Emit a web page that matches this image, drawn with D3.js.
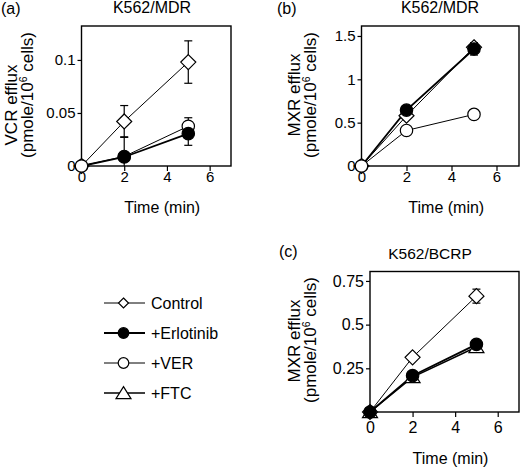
<!DOCTYPE html>
<html><head><meta charset="utf-8">
<script src="https://cdn.jsdelivr.net/npm/d3@7"></script>
<style>
html,body{margin:0;padding:0;background:#fff;}
svg{display:block;font-family:"Liberation Sans",Arial,sans-serif;}
</style></head>
<body><svg id="c" width="520" height="471"></svg>
<script>
// ---- data ----
const timePoints = [0, 2, 5];
const seriesNames = ["Control", "+Erlotinib", "+VER", "+FTC"];
const xTicks = [0, 2, 4, 6];

// (a) K562/MDR, VCR efflux
const vcrControl = [0, 0.042, 0.098];
const vcrControlErr = [0, 0.015, 0.02];
const vcrErlotinib = [0, 0.0085, 0.0305];
const vcrErlotinibErr = [0, 0.019, 0.011];
const vcrVer = [0, 0.009, 0.0375];
const vcrVerErr = [0, 0.003, 0.008];
const vcrTicks = [0, 0.05, 0.1];
const vcrTickLabels = ["0", "0.05", "0.1"];

// (b) K562/MDR, MXR efflux
const mdrControl = [0, 0.58, 1.37];
const mdrControlErr = [0, 0.03, 0.05];
const mdrErlotinib = [0, 0.645, 1.35];
const mdrErlotinibErr = [0, 0.03, 0.07];
const mdrVer = [0, 0.41, 0.595];
const mdrVerErr = [0, 0.02, 0.02];
const mdrTicks = [0, 0.5, 1, 1.5];
const mdrTickLabels = ["0", "0.5", "1", "1.5"];

// (c) K562/BCRP, MXR efflux
const bcrpControl = [0, 0.313, 0.663];
const bcrpControlErr = [0, 0.015, 0.04];
const bcrpErlotinib = [0, 0.208, 0.387];
const bcrpErlotinibErr = [0, 0.015, 0.02];
const bcrpFtc = [0, 0.2, 0.372];
const bcrpFtcErr = [0, 0.01, 0.015];
const bcrpTicks = [0.25, 0.5, 0.75];
const bcrpTickLabels = ["0.25", "0.5", "0.75"];

// ---- styles ----
const styleFor = {
  "Control":   {shape: "diamond", fill: "#fff", lw: 1},
  "+Erlotinib":{shape: "circle", fill: "#000", lw: 1.8},
  "+VER":      {shape: "circle", fill: "#fff", lw: 1},
  "+FTC":      {shape: "triangle", fill: "#fff", lw: 1.5}
};

const svg = d3.select("#c");

function markerPath(shape, s) {
  if (shape === "diamond") return `M0,${-s}L${s},0L0,${s}L${-s},0Z`;
  if (shape === "triangle") return `M0,${-s*0.85}L${s},${s*0.75}L${-s},${s*0.75}Z`;
  return null;
}
function drawMarker(g, shape, fill, x, y, size) {
  if (shape === "circle") {
    g.append("circle").attr("cx", x).attr("cy", y).attr("r", size)
      .attr("fill", fill).attr("stroke", "#000").attr("stroke-width", 1.2);
  } else {
    g.append("path").attr("d", markerPath(shape, size))
      .attr("transform", `translate(${x},${y})`)
      .attr("fill", fill).attr("stroke", "#000").attr("stroke-width", 1.2);
  }
}

function panel(cfg) {
  const g = svg.append("g");
  const x = d3.scaleLinear().domain([0, 7]).range(cfg.xr);
  const y = d3.scaleLinear().domain([0, cfg.ymax]).range(cfg.yr);
  const [x0, x1] = cfg.xr, [y0, y1] = cfg.yr;

  // x axis
  const xa = g.append("g").attr("transform", `translate(0,${y0})`)
    .call(d3.axisBottom(x).tickValues(xTicks).tickSize(5).tickSizeOuter(0).tickFormat(d3.format("d")));
  xa.select(".domain").remove();
  xa.selectAll("line").attr("stroke", "#000").attr("stroke-width", 1.2);
  xa.selectAll("text").attr("font-size", cfg.tickFont).attr("fill", "#000").attr("dy", cfg.xTickDy)
    .attr("font-family", "Liberation Sans, Arial, sans-serif");

  // y axis
  const ya = g.append("g").attr("transform", `translate(${x0},0)`)
    .call(d3.axisLeft(y).tickValues(cfg.ticks).tickSize(4).tickSizeOuter(0)
      .tickFormat((d, i) => cfg.tickLabels[i]));
  ya.select(".domain").remove();
  ya.selectAll("line").attr("stroke", "#000").attr("stroke-width", 1.2);
  ya.selectAll("text").attr("font-size", cfg.tickFont).attr("fill", "#000").attr("x", -6)
    .attr("font-family", "Liberation Sans, Arial, sans-serif");

  // frame
  g.append("rect").attr("x", x0).attr("y", y1).attr("width", x1 - x0).attr("height", y0 - y1)
    .attr("fill", "none").attr("stroke", "#000").attr("stroke-width", 1.4);

  // series lines
  const line = d3.line().x((d, i) => x(timePoints[i])).y(d => y(d));
  cfg.series.forEach(s => {
    const st = styleFor[s.name];
    g.append("path").datum(s.values).attr("d", line)
      .attr("fill", "none").attr("stroke", "#000").attr("stroke-width", st.lw);
  });
  // error bars
  cfg.series.forEach(s => {
    s.values.forEach((v, i) => {
      const e = s.err[i];
      if (e > 0) {
        const cx = x(timePoints[i]);
        const lo = Math.max(0, v - e), hi = v + e;
        g.append("line").attr("x1", cx).attr("x2", cx).attr("y1", y(lo)).attr("y2", y(hi))
          .attr("stroke", "#000").attr("stroke-width", 1.2);
        g.append("line").attr("x1", cx - 4).attr("x2", cx + 4).attr("y1", y(hi)).attr("y2", y(hi))
          .attr("stroke", "#000").attr("stroke-width", 1.2);
        if (v - e > 0)
          g.append("line").attr("x1", cx - 4).attr("x2", cx + 4).attr("y1", y(lo)).attr("y2", y(lo))
            .attr("stroke", "#000").attr("stroke-width", 1.2);
      }
    });
  });
  // markers (the series named in topAtZero gets its first marker drawn last)
  const deferred = [];
  cfg.series.forEach(s => {
    const st = styleFor[s.name];
    const size = st.shape === "diamond" ? 7.5 : st.shape === "triangle" ? 7.5 : 6.2;
    s.values.forEach((v, i) => {
      if (i === 0 && s.name === cfg.topAtZero) { deferred.push([st, v, i, size]); return; }
      drawMarker(g, st.shape, st.fill, x(timePoints[i]), y(v), size);
    });
  });
  deferred.forEach(([st, v, i, size]) => drawMarker(g, st.shape, st.fill, x(timePoints[i]), y(v), size));

  // titles
  g.append("text").attr("x", cfg.titleX).attr("y", cfg.titleY).attr("text-anchor", "middle")
    .attr("font-size", cfg.titleFont).text(cfg.title);
  g.append("text").attr("x", cfg.tagX).attr("y", cfg.tagY).attr("font-size", 16).text(cfg.tag);
  g.append("text").attr("x", (x0 + x1) / 2 + 6).attr("y", cfg.xLabelY).attr("text-anchor", "middle")
    .attr("font-size", 16).text("Time (min)");
  g.append("text").attr("transform", `translate(${cfg.yl1X},${cfg.yl1Y}) rotate(-90)`)
    .attr("text-anchor", "middle").attr("font-size", 17).text(cfg.ylabel);
  const t2 = g.append("text").attr("transform", `translate(${cfg.yl2X},${cfg.yl2Y}) rotate(-90)`)
    .attr("text-anchor", "middle").attr("font-size", 17);
  t2.append("tspan").text("(pmole/10");
  t2.append("tspan").attr("dy", -6).attr("font-size", 10.5).text("6");
  t2.append("tspan").attr("dy", 6).text(" cells)");
}

panel({
  xr: [81.5, 231], yr: [166, 26], ymax: 0.132, ticks: vcrTicks, tickLabels: vcrTickLabels,
  tickFont: 15, xTickDy: "0.55em", topAtZero: "+VER",
  series: [
    {name: "Control", values: vcrControl, err: vcrControlErr},
    {name: "+VER", values: vcrVer, err: vcrVerErr},
    {name: "+Erlotinib", values: vcrErlotinib, err: vcrErlotinibErr}
  ],
  title: "K562/MDR", titleX: 152, titleY: 13, titleFont: 16, tag: "(a)", tagX: 1, tagY: 14, xLabelY: 213,
  ylabel: "VCR efflux", yl1X: 17, yl1Y: 105, yl2X: 33, yl2Y: 95
});
panel({
  xr: [361.5, 519], yr: [166, 26], ymax: 1.615, ticks: mdrTicks, tickLabels: mdrTickLabels,
  tickFont: 15, xTickDy: "0.55em", topAtZero: "+VER",
  series: [
    {name: "Control", values: mdrControl, err: mdrControlErr},
    {name: "+Erlotinib", values: mdrErlotinib, err: mdrErlotinibErr},
    {name: "+VER", values: mdrVer, err: mdrVerErr}
  ],
  title: "K562/MDR", titleX: 440, titleY: 13, titleFont: 16, tag: "(b)", tagX: 277, tagY: 14, xLabelY: 213,
  ylabel: "MXR efflux", yl1X: 300, yl1Y: 95, yl2X: 316, yl2Y: 95
});
panel({
  xr: [370, 519], yr: [412, 271.5], ymax: 0.804, ticks: bcrpTicks, tickLabels: bcrpTickLabels,
  tickFont: 16, xTickDy: "0.82em", topAtZero: null,
  series: [
    {name: "Control", values: bcrpControl, err: bcrpControlErr},
    {name: "+FTC", values: bcrpFtc, err: bcrpFtcErr},
    {name: "+Erlotinib", values: bcrpErlotinib, err: bcrpErlotinibErr}
  ],
  title: "K562/BCRP", titleX: 430, titleY: 259, titleFont: 15.5, tag: "(c)", tagX: 279, tagY: 257, xLabelY: 464,
  ylabel: "MXR efflux", yl1X: 300, yl1Y: 341, yl2X: 316, yl2Y: 340
});

// legend
const leg = svg.append("g");
const legY = d3.scaleBand().domain(seriesNames).range([288, 408]);
seriesNames.forEach(n => {
  const st = styleFor[n];
  const cy = legY(n) + legY.bandwidth() / 2;
  leg.append("line").attr("x1", 104).attr("x2", 145).attr("y1", cy).attr("y2", cy)
    .attr("stroke", "#000").attr("stroke-width", st.lw);
  const size = st.shape === "diamond" ? 5 : st.shape === "triangle" ? 7.5 : 5.3;
  drawMarker(leg, st.shape, st.fill, 123.5, cy, size);
  leg.append("text").attr("x", 151).attr("y", cy + 5.5).attr("font-size", 16).text(n);
});
</script></body></html>
